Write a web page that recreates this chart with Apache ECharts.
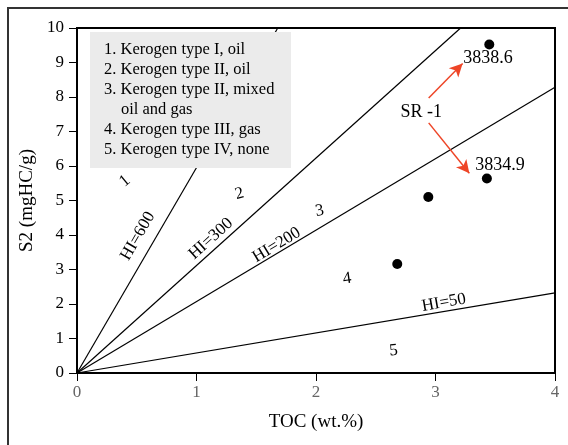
<!DOCTYPE html>
<html>
<head>
<meta charset="utf-8">
<script src="https://cdn.jsdelivr.net/npm/echarts@6/dist/echarts.min.js"></script>
<style>
  html, body { margin: 0; padding: 0; background: #fff; }
  #main { width: 568px; height: 445px; }
</style>
</head>
<body>
<div id="main"></div>
<script>
const FONT = "'Liberation Serif', 'Times New Roman', serif";

// samples (TOC wt.%, S2 mgHC/g)
const samples = [
    [3.45, 9.52],
    [3.43, 5.64],
    [2.94, 5.10],
    [2.68, 3.16]
]

// HI reference lines, from origin to these ends
const hiNames = ['HI=600', 'HI=300', 'HI=200', 'HI=50']
const hiEnds = [[1.68, 10], [3.21, 10], [4, 8.28], [4, 2.32]]
const hiLabelPos = [[0.51, 3.97], [1.12, 3.89], [1.67, 3.71], [3.07, 2.04]]
const hiLabelRot = [60, 42, 31, 10]

// kerogen zone numbers
const zoneNames = ['1', '2', '3', '4', '5']
const zonePos = [[0.40, 5.56], [1.36, 5.19], [2.03, 4.70], [2.26, 2.73], [2.65, 0.65]]
const zoneRot = [40, 15, 10, 8, 5]

// depth notes and arrows
const noteNames = ['3838.6', '3834.9', 'SR -1']
const notePos = [[3.44, 9.12], [3.54, 6.03], [2.88, 7.56]]
const arrows = [
    [[2.943, 7.97], [3.227, 8.97]],
    [[2.943, 7.25], [3.283, 5.79]]
]

const legendLines = [
    '1. Kerogen type I, oil',
    '2. Kerogen type II, oil',
    '3. Kerogen type II, mixed',
    '    oil and gas',
    '4. Kerogen type III, gas',
    '5. Kerogen type IV, none'
]

const xTicks = [0, 1, 2, 3, 4]
const yTicks = [0, 1, 2, 3, 4, 5, 6, 7, 8, 9, 10]

let series = []

for (let i = 0; i < hiNames.length; i++) {
    series.push({
        name: hiNames[i],
        type: 'line',
        data: [[0, 0], hiEnds[i]],
        symbol: 'none',
        lineStyle: { color: '#000', width: 1.2 },
        z: 2
    })
    series.push({
        type: 'scatter',
        data: [{ value: hiLabelPos[i], name: hiNames[i] }],
        symbolSize: 0,
        itemStyle: { opacity: 1 },
        label: {
            show: true, position: 'inside', formatter: '{b}',
            rotate: hiLabelRot[i], color: '#000',
            fontFamily: FONT, fontSize: 17
        },
        z: 3
    })
}

series.push({
    type: 'scatter',
    data: zoneNames.map((n, i) => ({
        value: zonePos[i], name: n,
        label: { rotate: zoneRot[i] }
    })),
    symbolSize: 0,
    itemStyle: { opacity: 1 },
    label: {
        show: true, position: 'inside', formatter: '{b}',
        color: '#000', fontFamily: FONT, fontSize: 17
    },
    z: 3
})

series.push({
    type: 'scatter',
    data: noteNames.map((n, i) => ({ value: notePos[i], name: n })),
    symbolSize: 0,
    itemStyle: { opacity: 1 },
    label: {
        show: true, position: 'inside', formatter: '{b}',
        color: '#000', fontFamily: FONT, fontSize: 18
    },
    markLine: {
        silent: true,
        symbol: ['none', 'arrow'],
        symbolSize: [10, 13],
        label: { show: false },
        lineStyle: { color: '#ee4527', width: 1.5, type: 'solid', opacity: 1 },
        data: arrows.map(a => [{ coord: a[0] }, { coord: a[1] }])
    },
    z: 3
})

series.push({
    name: 'samples',
    type: 'scatter',
    data: samples,
    symbolSize: 10,
    itemStyle: { color: '#000', opacity: 1 },
    z: 4
})

// legend box drawn as graphic
let graphics = [
    {
        type: 'rect', z: 50,
        shape: { x: 90, y: 32, width: 201, height: 136 },
        style: { fill: '#ebebeb' }
    },
    {
        type: 'polyline', z: 60,
        shape: { points: [[8, 445], [8, 8], [568, 8]] },
        style: { stroke: '#333', lineWidth: 2, fill: null }
    }
]
legendLines.forEach((t, i) => {
    graphics.push({
        type: 'text', z: 51,
        x: 104, y: 50 + i * 20,
        style: {
            text: t.trim(), x: t.startsWith(' ') ? 17 : 0,
            fill: '#000', font: '16.5px ' + FONT, verticalAlign: 'middle'
        }
    })
})

let chart = echarts.init(document.getElementById('main'))
chart.setOption({
    backgroundColor: '#fff',
    animation: false,
    grid: {
        left: 77, right: 13, top: 28, bottom: 72,
        show: true, borderColor: '#000', borderWidth: 2
    },
    xAxis: {
        type: 'value', min: xTicks[0], max: xTicks[xTicks.length - 1], interval: 1,
        name: 'TOC (wt.%)', nameLocation: 'middle', nameGap: 40,
        nameTextStyle: { fontFamily: FONT, fontSize: 19, color: '#000' },
        axisLine: { show: true, lineStyle: { color: '#000', width: 2 } },
        axisTick: { show: true, length: 8, lineStyle: { color: '#000', width: 1 } },
        axisLabel: { fontFamily: FONT, fontSize: 17, color: '#666', margin: 11 },
        splitLine: { show: false }
    },
    yAxis: {
        type: 'value', min: yTicks[0], max: yTicks[yTicks.length - 1], interval: 1,
        name: 'S2 (mgHC/g)', nameLocation: 'middle', nameGap: 40, nameRotate: 90,
        nameTextStyle: { fontFamily: FONT, fontSize: 19, color: '#000' },
        axisLine: { show: true, lineStyle: { color: '#000', width: 2 } },
        axisTick: { show: true, length: 8, lineStyle: { color: '#000', width: 1 } },
        axisLabel: { fontFamily: FONT, fontSize: 17, color: '#000', margin: 13 },
        splitLine: { show: false }
    },
    graphic: graphics,
    series: series
})
</script>
</body>
</html>
